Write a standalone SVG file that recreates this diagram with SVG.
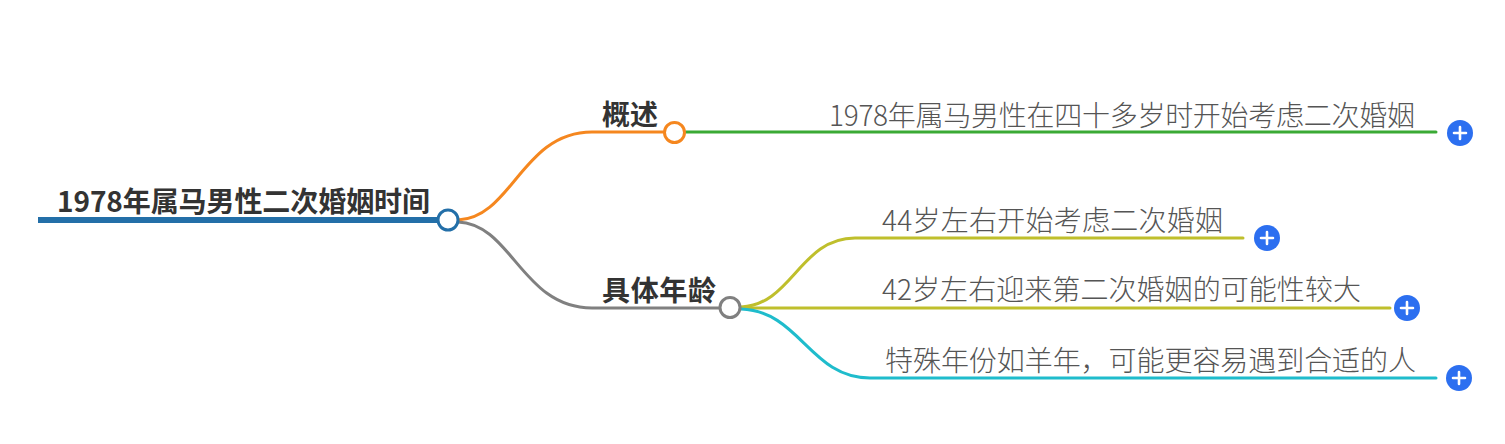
<svg xmlns="http://www.w3.org/2000/svg" width="1505" height="444" viewBox="0 0 1505 444">
<style>
.bold{font-family:"Noto Sans CJK SC","Noto Sans",sans-serif;font-weight:700;font-size:28px;fill:#333}
.lite{font-family:"Noto Sans CJK SC","Noto Sans",sans-serif;font-weight:200;font-size:28px;fill:#555}
.edge{fill:none;stroke-width:3;stroke-linecap:round}
.plus circle{fill:#2c6ff0}
.plus path{stroke:#fff;stroke-width:2.6;stroke-linecap:round;fill:none}
</style>
<rect width="1505" height="444" fill="#fff"/>
<g id="connectors">
  <path class="edge" stroke="#f5871f" d="M458,220 C512,218 522,132 592,132 L663,132"/>
  <path class="edge" stroke="#808080" d="M458,222 C512,224 522,308 592,308 L719,308"/>
  <path class="edge" stroke="#3aaa35" d="M686,132 L1436,132"/>
  <path class="edge" stroke="#bfbf2c" d="M741,307 C792,305 800,238 855,238 L1243,238"/>
  <path class="edge" stroke="#bfbf2c" d="M741,308 L1390,308"/>
  <path class="edge" stroke="#1fbccc" d="M741,309 C800,311 810,378 870,378 L1436,378"/>
</g>
<g id="root">
  <line x1="38" y1="220" x2="438" y2="220" stroke="#236fa8" stroke-width="6"/>
  <text class="bold" x="57" y="212" textLength="373" lengthAdjust="spacing">1978年属马男性二次婚姻时间</text>
  <circle cx="448" cy="220" r="10" fill="#fff" stroke="#236fa8" stroke-width="3"/>
</g>
<g id="n-gaishu">
  <text class="bold" x="602" y="125" textLength="56" lengthAdjust="spacing">概述</text>
  <circle cx="674.5" cy="132.5" r="10" fill="#fff" stroke="#f5871f" stroke-width="3"/>
</g>
<g id="n-gaishu-1">
  <text class="lite" x="829" y="126" textLength="586" lengthAdjust="spacing">1978年属马男性在四十多岁时开始考虑二次婚姻</text>
  <g class="plus"><circle cx="1460" cy="133" r="13"/><path d="M1454,133 H1466 M1460,127 V139"/></g>
</g>
<g id="n-age">
  <text class="bold" x="602" y="301" textLength="114" lengthAdjust="spacing">具体年龄</text>
  <circle cx="730" cy="307.5" r="10" fill="#fff" stroke="#808080" stroke-width="3"/>
</g>
<g id="n-age-1">
  <text class="lite" x="882" y="231" textLength="341" lengthAdjust="spacing">44岁左右开始考虑二次婚姻</text>
  <g class="plus"><circle cx="1267" cy="238" r="13"/><path d="M1261,238 H1273 M1267,232 V244"/></g>
</g>
<g id="n-age-2">
  <text class="lite" x="882" y="300" textLength="479" lengthAdjust="spacing">42岁左右迎来第二次婚姻的可能性较大</text>
  <g class="plus"><circle cx="1407" cy="308" r="13"/><path d="M1401,308 H1413 M1407,302 V314"/></g>
</g>
<g id="n-age-3">
  <text class="lite" x="885" y="371" textLength="531" lengthAdjust="spacing">特殊年份如羊年，可能更容易遇到合适的人</text>
  <g class="plus"><circle cx="1459" cy="378" r="13"/><path d="M1453,378 H1465 M1459,372 V384"/></g>
</g>
</svg>
